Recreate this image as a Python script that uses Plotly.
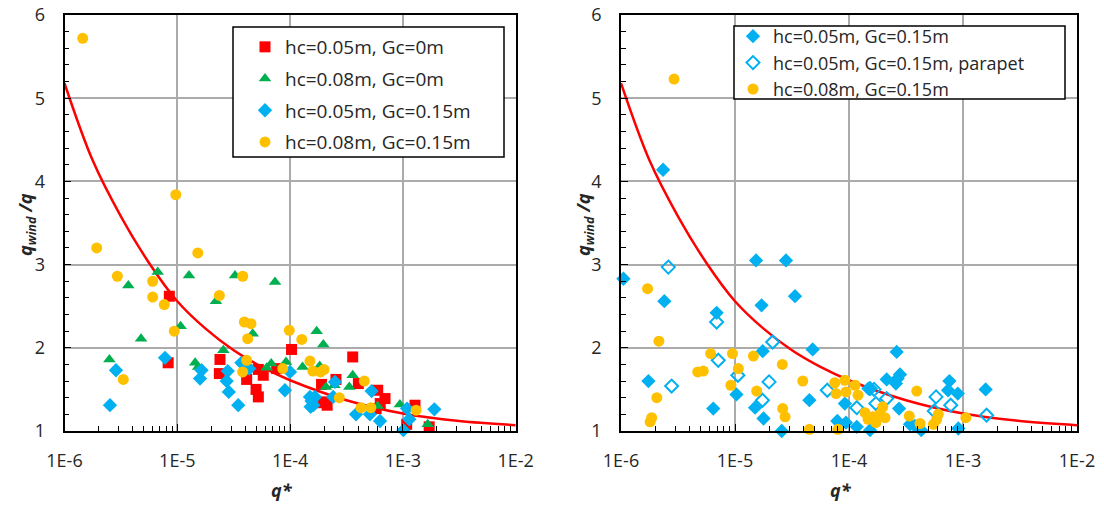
import plotly.graph_objects as go

# ---------------- left panel: q* vs q_wind/q ----------------
red_q = [8.3e-6, 8.5e-6, 2.36e-5, 2.39e-5, 4.12e-5, 4.99e-5, 5.23e-5, 5.23e-5, 5.78e-5, 7.6e-5,
         1.03e-4, 1.83e-4, 1.9e-4, 2.05e-4, 2.13e-4, 2.55e-4, 3.59e-4, 4.03e-4, 5.8e-4, 6.3e-4,
         5.98e-4, 6.94e-4, 1.08e-3, 1.28e-3, 1.71e-3]
red_v = [1.82, 2.62, 1.69, 1.86, 1.62, 1.50, 1.41, 1.74, 1.67, 1.75,
         1.98, 1.34, 1.56, 1.35, 1.31, 1.62, 1.89, 1.57, 1.27, 1.33,
         1.49, 1.39, 1.08, 1.31, 1.05]

green_q = [2.5e-6, 3.68e-6, 4.77e-6, 6.7e-6, 1.07e-5, 1.27e-5, 1.44e-5, 1.53e-5, 2.2e-5, 2.56e-5,
           3.25e-5, 4.66e-5, 6.2e-5, 6.8e-5, 7.35e-5, 9.2e-5, 1.29e-4, 1.72e-4, 1.83e-4, 1.97e-4,
           2.08e-4, 2.47e-4, 3.35e-4, 3.59e-4, 5.97e-4, 9.4e-4, 1.66e-3]
green_v = [1.86, 2.75, 2.11, 2.91, 2.26, 2.87, 1.82, 1.77, 2.56, 1.97,
           2.87, 2.17, 1.76, 1.81, 2.79, 1.83, 1.77, 2.20, 1.78, 2.04,
           1.53, 1.55, 1.53, 1.67, 1.30, 1.32, 1.08]

blue_q = [2.53e-6, 2.86e-6, 7.78e-6, 1.59e-5, 1.64e-5, 2.74e-5, 2.8e-5, 2.86e-5, 3.47e-5, 3.7e-5,
          4.35e-5, 9.0e-5, 9.98e-5, 1.5e-4, 1.55e-4, 1.61e-4, 1.52e-4, 1.66e-4, 2.41e-4, 2.5e-4,
          3.84e-4, 5.1e-4, 5.28e-4, 6.27e-4, 1.01e-3, 1.09e-3, 1.14e-3, 1.9e-3]
blue_v = [1.31, 1.73, 1.88, 1.63, 1.73, 1.60, 1.72, 1.47, 1.31, 1.82,
          1.75, 1.49, 1.71, 1.41, 1.36, 1.31, 1.29, 1.41, 1.41, 1.59,
          1.20, 1.20, 1.48, 1.12, 1.01, 1.27, 1.14, 1.26]

gold_q = [1.45e-6, 1.93e-6, 2.94e-6, 3.32e-6, 6.05e-6, 6.05e-6, 7.67e-6, 9.4e-6, 9.7e-6, 1.52e-5,
          2.36e-5, 3.8e-5, 3.93e-5, 4.5e-5, 4.21e-5, 4.12e-5, 3.8e-5, 8.6e-5, 9.84e-5, 1.27e-4,
          1.5e-4, 1.59e-4, 1.86e-4, 2.0e-4, 2.73e-4, 4.55e-4, 4.25e-4, 5.2e-4, 1.31e-3]
gold_v = [5.72, 3.20, 2.86, 1.62, 2.80, 2.61, 2.52, 2.20, 3.84, 3.14,
          2.63, 2.86, 2.31, 2.29, 2.11, 1.85, 1.71, 1.75, 2.21, 2.10,
          1.84, 1.72, 1.71, 1.74, 1.40, 1.60, 1.28, 1.28, 1.25]

# ---------------- right panel ----------------
rb_q = [1.05e-6, 1.74e-6, 2.34e-6, 2.4e-6, 6.45e-6, 6.9e-6, 1.03e-5, 1.5e-5, 1.53e-5, 1.71e-5,
        1.75e-5, 1.78e-5, 2.57e-5, 2.8e-5, 3.36e-5, 4.49e-5, 4.8e-5, 7.9e-5, 9.2e-5, 9.4e-5,
        1.17e-4, 1.48e-4, 1.53e-4, 2.14e-4, 2.58e-4, 2.62e-4, 2.67e-4, 2.75e-4, 2.8e-4, 3.43e-4,
        3.79e-4, 4.3e-4, 7.4e-4, 7.6e-4, 9.0e-4, 9.1e-4, 1.58e-3]
rb_v = [2.83, 1.60, 4.14, 2.56, 1.27, 2.42, 1.44, 1.28, 3.05, 2.51,
        1.96, 1.15, 1.00, 3.05, 2.62, 1.37, 1.98, 1.12, 1.33, 1.10,
        1.05, 1.51, 1.01, 1.62, 1.57, 1.95, 1.63, 1.27, 1.68, 1.08,
        1.06, 1.01, 1.49, 1.60, 1.45, 1.03, 1.50]

rp_q = [2.6e-6, 2.78e-6, 6.9e-6, 7.13e-6, 1.06e-5, 1.74e-5, 1.99e-5, 2.14e-5, 6.45e-5, 1.17e-4,
        1.53e-4, 1.66e-4, 1.72e-4, 2.14e-4, 5.6e-4, 5.8e-4, 7.8e-4, 1.61e-3]
rp_v = [2.97, 1.54, 2.31, 1.85, 1.67, 1.37, 1.59, 2.07, 1.49, 1.28,
        1.51, 1.50, 1.33, 1.39, 1.24, 1.41, 1.31, 1.19]

rg_q = [1.71e-6, 1.8e-6, 1.86e-6, 2.06e-6, 2.15e-6, 2.92e-6, 4.71e-6, 5.27e-6, 6.12e-6, 9.2e-6,
        9.5e-6, 1.07e-5, 1.45e-5, 1.55e-5, 2.6e-5, 2.62e-5, 2.75e-5, 3.93e-5, 4.49e-5, 7.5e-5,
        7.7e-5, 8.0e-5, 9.2e-5, 9.4e-5, 1.13e-4, 1.2e-4, 1.38e-4, 1.47e-4, 1.62e-4, 1.72e-4,
        1.88e-4, 1.98e-4, 2.07e-4, 3.38e-4, 3.93e-4, 4.2e-4, 5.5e-4, 5.88e-4, 6.07e-4, 1.06e-3]
rg_v = [2.71, 1.11, 1.16, 1.40, 2.08, 5.23, 1.71, 1.72, 1.93, 1.55,
        1.93, 1.75, 1.90, 1.48, 1.80, 1.27, 1.17, 1.60, 1.02, 1.58,
        1.45, 1.02, 1.61, 1.47, 1.55, 1.43, 1.22, 1.14, 1.17, 1.10,
        1.21, 1.29, 1.16, 1.18, 1.48, 1.09, 1.08, 1.14, 1.20, 1.16]

# design curve (same on both panels)
curve_q = [1e-6, 1.78e-6, 3.16e-6, 5.62e-6, 1e-5, 1.78e-5, 3.16e-5, 5.62e-5, 1e-4, 3.16e-4,
           1e-3, 3.16e-3, 1e-2]
curve_v = [5.18, 4.25, 3.58, 3.02, 2.56, 2.23, 1.97, 1.77, 1.61, 1.37,
           1.21, 1.12, 1.07]

x_ticks = [1e-6, 1e-5, 1e-4, 1e-3, 1e-2]
x_ticktext = ["1E-6", "1E-5", "1E-4", "1E-3", "1E-2"]
x_minor = [m * 10.0 ** e for e in range(-6, -2) for m in range(2, 10)]

RED, GREEN, BLUE, GOLD = "#FF0000", "#00B050", "#00B0F0", "#FFC000"
FONT = "Open Sans"
TXT = "#262626"

fig = go.Figure()

def curve(xa, ya):
    fig.add_trace(go.Scatter(x=curve_q, y=curve_v, mode="lines", line=dict(color=RED, width=2.5, shape="spline"),
                             xaxis=xa, yaxis=ya, showlegend=False, hoverinfo="skip"))

curve("x", "y")
left = [
    ("hc=0.05m, Gc=0m", red_q, red_v, dict(symbol="square", size=11, color=RED)),
    ("hc=0.08m, Gc=0m", green_q, green_v, dict(symbol="triangle-up", size=11, color=GREEN)),
    ("hc=0.05m, Gc=0.15m", blue_q, blue_v, dict(symbol="diamond", size=11, color=BLUE)),
    ("hc=0.08m, Gc=0.15m", gold_q, gold_v, dict(symbol="circle", size=11, color=GOLD)),
]
for i, (name, xs, ys, mk) in enumerate(left):
    fig.add_trace(go.Scatter(x=xs, y=ys, mode="markers", name=name, marker=mk, cliponaxis=False,
                             xaxis="x", yaxis="y", legend="legend", legendgroup="L%d" % i))

curve("x2", "y2")
right = [
    ("hc=0.05m, Gc=0.15m", rb_q, rb_v, dict(symbol="diamond", size=11, color=BLUE)),
    ("hc=0.05m, Gc=0.15m, parapet", rp_q, rp_v,
     dict(symbol="diamond-open", size=10, color=BLUE, line=dict(width=2, color=BLUE))),
    ("hc=0.08m, Gc=0.15m", rg_q, rg_v, dict(symbol="circle", size=11, color=GOLD)),
]
for i, (name, xs, ys, mk) in enumerate(right):
    fig.add_trace(go.Scatter(x=xs, y=ys, mode="markers", name=name, marker=mk, cliponaxis=False,
                             xaxis="x2", yaxis="y2", legend="legend2", legendgroup="R%d" % i))

W, H = 1104, 506
ytop, ybot = 1 - 15 / H, 1 - 431 / H
tick_font = dict(family=FONT, size=18, color=TXT)

def px(x):
    return x / W

def py(y):
    return 1 - y / H

def xaxis(domain, anchor):
    return dict(domain=domain, anchor=anchor, type="log", range=[-6, -2],
                tickvals=x_ticks, ticktext=x_ticktext, ticks="inside", ticklen=7, tickwidth=1.2,
                tickcolor="black", showline=True, linecolor="black", linewidth=1.8, mirror=True,
                showgrid=True, gridcolor="#ABABAB", gridwidth=1.5, zeroline=False,
                minor=dict(tickvals=x_minor, ticks="inside", ticklen=5, tickcolor="black", showgrid=False),
                tickfont=tick_font, ticklabelstandoff=12, automargin=False)

def yaxis(anchor):
    return dict(domain=[ybot, ytop], anchor=anchor, range=[1, 6], dtick=1, tick0=1,
                ticks="inside", ticklen=7, tickwidth=1.2, tickcolor="black",
                showline=True, linecolor="black", linewidth=1.8, mirror=True,
                showgrid=True, gridcolor="#ABABAB", gridwidth=1.5, zeroline=False,
                minor=dict(dtick=0.2, ticks="inside", ticklen=5, tickcolor="black", showgrid=False),
                tickfont=tick_font, ticklabelstandoff=14, automargin=False)

legend_common = dict(xanchor="left", yanchor="top", bgcolor="rgba(0,0,0,0)", borderwidth=0,
                     itemwidth=30, itemclick=False)

# framed boxes behind the two legends
shapes = [
    dict(type="rect", xref="paper", yref="paper", x0=px(233), x1=px(504), y0=py(157), y1=py(27),
         line=dict(color="black", width=1.5), fillcolor="white", layer="above"),
    dict(type="rect", xref="paper", yref="paper", x0=px(734), x1=px(1065), y0=py(99), y1=py(26),
         line=dict(color="black", width=1.5), fillcolor="white", layer="above"),
]

title_font = dict(family=FONT, size=18, color=TXT)
annotations = []
for cx, ylab_x in [(282, 26), (841, 584)]:
    annotations.append(dict(text="<b><i>q*</i></b>", x=px(cx), y=py(490), xref="paper", yref="paper",
                            xanchor="center", yanchor="middle", showarrow=False, font=title_font))
    annotations.append(dict(text="<b><i>q<sub>wind</sub> /q</i></b>", x=px(ylab_x), y=py(225),
                            xref="paper", yref="paper", xanchor="center", yanchor="middle",
                            showarrow=False, textangle=-90, font=title_font))

fig.update_layout(
    width=W, height=H, margin=dict(l=0, r=0, t=0, b=0),
    paper_bgcolor="white", plot_bgcolor="white",
    xaxis=xaxis([px(64.5), px(515.7)], "y"), yaxis=yaxis("x"),
    xaxis2=xaxis([px(621), px(1077)], "y2"), yaxis2=yaxis("x2"),
    legend=dict(x=px(245), y=py(28), tracegroupgap=4, font=dict(family=FONT, size=19, color=TXT),
                **legend_common),
    legend2=dict(x=px(733), y=py(18), tracegroupgap=0, font=dict(family=FONT, size=18, color=TXT),
                 **legend_common),
    shapes=shapes,
    annotations=annotations,
)

fig.write_html("out.html")
